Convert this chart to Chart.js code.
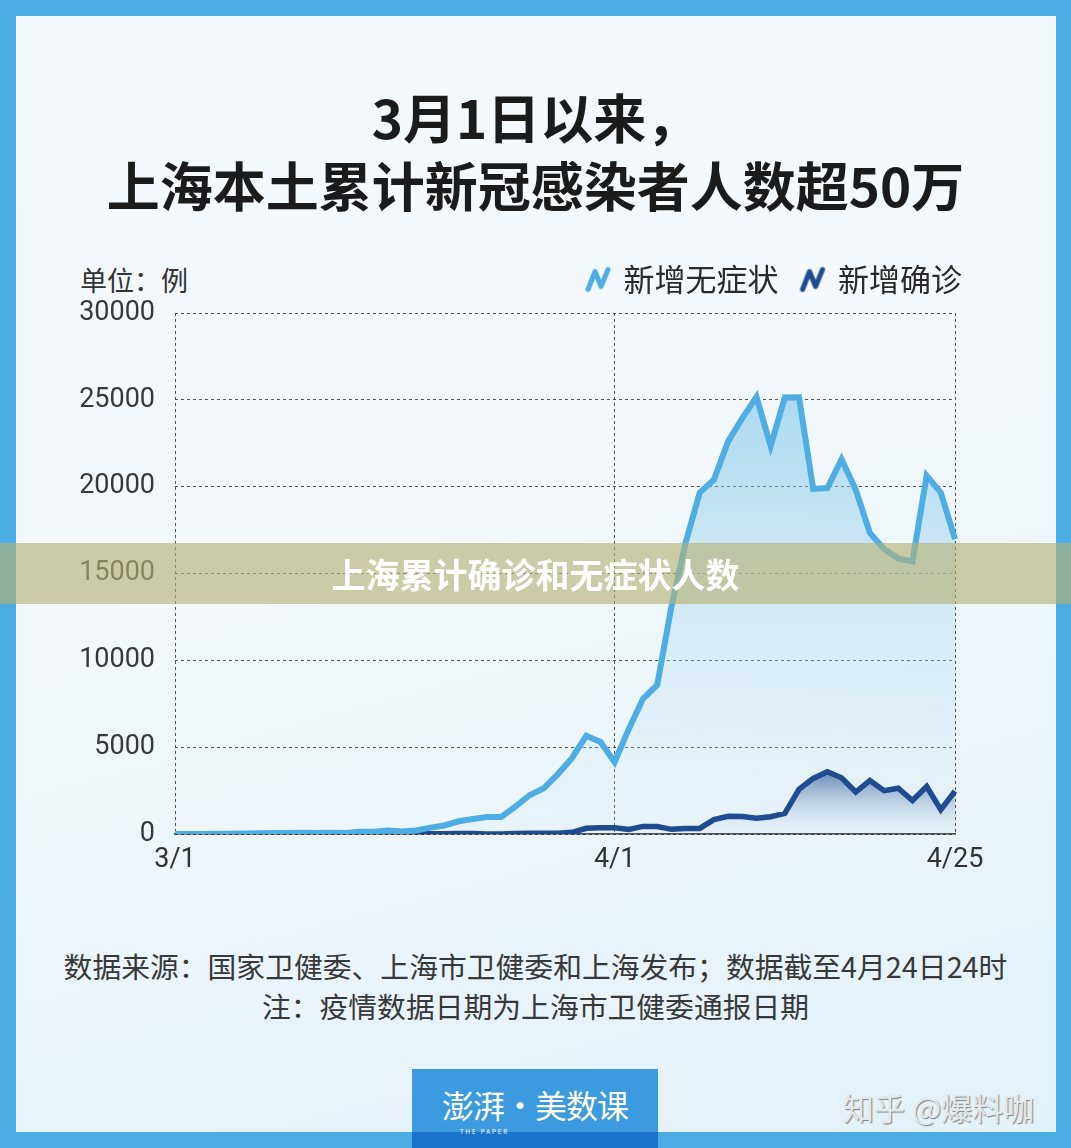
<!DOCTYPE html>
<html>
<head>
<meta charset="utf-8">
<script src="https://cdn.jsdelivr.net/npm/chart.js@4.4.0/dist/chart.umd.min.js"></script>
<style>
  body { margin: 0; width: 1071px; height: 1148px; background: #4aade3; overflow: hidden; position: relative; font-family: "Noto Sans CJK SC", sans-serif; }
  .panel { position: absolute; left: 16px; top: 16px; width: 1040px; height: 1116px;
    background: linear-gradient(165deg, #f3f9fc 0%, #f2f8fb 45%, #e3f1f9 100%); }
  .title { position: absolute; left: 0; width: 1071px; text-align: center; font-weight: bold; color: #1b1b1b; }
  .unit { position: absolute; left: 80px; top: 260px; font-size: 27px; color: #333; }
  #chart { position: absolute; left: 0; top: 240px; }
  .note { position: absolute; left: 0; width: 1071px; text-align: center; font-size: 28.8px; color: #383838; }
  .band { position: absolute; left: 0; top: 543px; width: 1071px; height: 61px; background: rgba(181,177,117,0.63);
    color: #fff; font-weight: bold; font-size: 34px; line-height: 61px; text-align: center; }
  .logo { position: absolute; left: 412px; top: 1069px; width: 246px; height: 79px;
    background: linear-gradient(#3c9ade 0%, #3c9ade 80%, #1b72cb 80%); }
  .logo span { position: absolute; left: 0; top: 12px; width: 246px; text-align: center; color: #fff; font-size: 32px; letter-spacing: -1px; }
  .logo small { position: absolute; left: 48px; top: 58px; font-size: 6px; color: #fff; letter-spacing: 2px; }
  .mark { position: absolute; left: 843px; top: 1084px; font-size: 31px; color: #e4e8ea; text-shadow: 1px 1px 1px #7d8488; }
</style>
</head>
<body>
<div class="panel"></div>
<div class="title" style="top:78px;font-size:53px;">3月1日以来，</div>
<div class="title" style="top:146px;font-size:53px;">上海本土累计新冠感染者人数超50万</div>
<div class="unit">单位：例</div>
<canvas id="chart" width="1071" height="636"></canvas>
<div class="note" style="top:945px;">数据来源：国家卫健委、上海市卫健委和上海发布；数据截至4月24日24时</div>
<div class="note" style="top:985px;">注：疫情数据日期为上海市卫健委通报日期</div>
<div class="band">上海累计确诊和无症状人数</div>
<div class="logo"><span>澎湃·美数课</span><small>THE PAPER</small></div>
<div class="mark">知乎 @爆料咖</div>
<script>
const dates = ["3/1","3/2","3/3","3/4","3/5","3/6","3/7","3/8","3/9","3/10",
  "3/11","3/12","3/13","3/14","3/15","3/16","3/17","3/18","3/19","3/20",
  "3/21","3/22","3/23","3/24","3/25","3/26","3/27","3/28","3/29","3/30","3/31",
  "4/1","4/2","4/3","4/4","4/5","4/6","4/7","4/8","4/9","4/10",
  "4/11","4/12","4/13","4/14","4/15","4/16","4/17","4/18","4/19","4/20",
  "4/21","4/22","4/23","4/24","4/25"];
const xTickLabels = ["3/1", "4/1", "4/25"];

// 新增无症状
const asymptomatic = [1, 1, 3, 14, 16, 28, 45, 51, 62, 76,
  64, 78, 64, 128, 130, 197, 150, 203, 366, 492,
  734, 865, 977, 979, 1580, 2231, 2631, 3450, 4381, 5656, 5298,
  4144, 6051, 7788, 8581, 13086, 16766, 19660, 20398, 22609, 23937,
  25173, 22348, 25141, 25146, 19872, 19923, 21582, 19831, 17332, 16407,
  15861, 15698, 20634, 19657, 16983];
// 新增确诊
const confirmed = [0, 1, 0, 2, 3, 0, 3, 4, 3, 4,
  11, 5, 1, 41, 9, 5, 8, 57, 8, 17,
  24, 31, 4, 4, 29, 38, 45, 50, 96, 326, 355,
  358, 260, 438, 425, 268, 311, 322, 824, 1015, 1006,
  914, 994, 1189, 2573, 3200, 3590, 3238, 2417, 3084, 2494,
  2634, 1931, 2736, 1401, 2472];

const lightBlue = "#4eaee3";
const darkBlue = "#1f4b90";
const gridColor = "rgba(55,55,55,0.85)";

function makeIcon(color) {
  const c = document.createElement("canvas");
  c.width = 28; c.height = 28;
  const g = c.getContext("2d");
  g.strokeStyle = color; g.lineWidth = 5; g.lineCap = "round"; g.lineJoin = "round";
  g.beginPath();
  g.moveTo(4, 24); g.lineTo(11, 6); g.lineTo(17, 21); g.lineTo(24, 4);
  g.stroke();
  return c;
}

function areaFill(top, bottom) {
  return function(ctx) {
    const area = ctx.chart.chartArea;
    if (!area) return top;
    const y0 = ctx.datasetIndex === 0 ? area.top + 80 : area.bottom - 70;
    const grad = ctx.chart.ctx.createLinearGradient(0, y0, 0, area.bottom);
    grad.addColorStop(0, top);
    grad.addColorStop(1, bottom);
    return grad;
  };
}

// a bit more room under the legend row
const legendGap = {
  id: "legendGap",
  afterInit(chart) {
    const lg = chart.legend;
    const fit = lg.fit;
    lg.fit = function() {
      fit.call(this);
      this.height = 73;
    };
  }
};

new Chart(document.getElementById("chart"), {
  type: "line",
  data: {
    labels: dates,
    datasets: [{
      label: "新增无症状",
      data: asymptomatic,
      borderColor: lightBlue,
      borderWidth: 6,
      borderJoinStyle: "miter",
      backgroundColor: areaFill("rgba(110,190,230,0.55)", "rgba(215,238,247,0.15)"),
      fill: "origin",
      pointRadius: 0,
      pointStyle: makeIcon(lightBlue),
      tension: 0
    }, {
      label: "新增确诊",
      data: confirmed,
      borderColor: darkBlue,
      borderWidth: 5.5,
      borderJoinStyle: "miter",
      backgroundColor: areaFill("rgba(30,72,140,0.95)", "rgba(215,235,245,0.1)"),
      fill: "origin",
      pointRadius: 0,
      pointStyle: makeIcon(darkBlue),
      tension: 0
    }]
  },
  options: {
    responsive: false,
    animation: false,
    devicePixelRatio: 1,
    layout: { padding: { right: 85 } },
    plugins: {
      filler: { drawTime: "beforeDatasetsDraw" },
      tooltip: { enabled: false },
      legend: {
        align: "end",
        labels: {
          usePointStyle: true,
          pointStyleWidth: 20,
          padding: 24,
          color: "#2a2a2a",
          font: { family: "Noto Sans CJK SC", size: 31 }
        }
      }
    },
    scales: {
      x: {
        afterFit: s => { s.height = 42; },
        grid: {
          drawTicks: false,
          color: c => [0, 31, 55].includes(c.index) ? gridColor : "transparent"
        },
        border: { display: true, color: "#222", width: 1.5, dash: [3, 3] },
        ticks: {
          autoSkip: false,
          maxRotation: 0,
          padding: 10,
          color: "#333",
          font: { family: "Roboto", size: 27 },
          callback: (v, i) => xTickLabels.includes(dates[i]) && [0, 31, 55].includes(i) ? dates[i] : ""
        }
      },
      y: {
        min: 0,
        max: 30000,
        afterFit: s => { s.width = 175; },
        grid: { drawTicks: false, color: gridColor },
        border: { display: false, dash: [3, 3] },
        ticks: {
          stepSize: 5000,
          padding: 20,
          color: "#383838",
          font: { family: "Roboto", size: 27 },
          callback: v => String(v)
        }
      },
      // empty right axis, only keeps the plot narrower than the legend row
      y2: {
        position: "right",
        afterFit: s => { s.width = 31; },
        grid: { display: false },
        border: { display: false },
        ticks: { display: false }
      }
    }
  },
  plugins: [legendGap]
});
</script>
</body>
</html>
